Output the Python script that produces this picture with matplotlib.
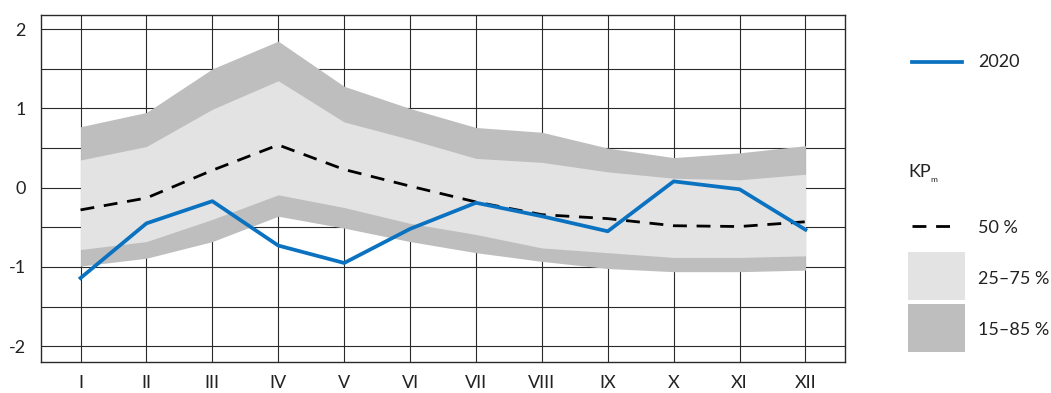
import numpy as np
import matplotlib.pyplot as plt
from matplotlib.patches import Rectangle
from matplotlib.lines import Line2D

plt.rcParams['font.family'] = ['Lato', 'DejaVu Sans']

# měsíce a percentily
months = ['I', 'II', 'III', 'IV', 'V', 'VI', 'VII', 'VIII', 'IX', 'X', 'XI', 'XII']
p15 = [-0.99, -0.89, -0.68, -0.36, -0.51, -0.68, -0.82, -0.93, -1.02, -1.06, -1.06, -1.04]
p25 = [-0.78, -0.68, -0.40, -0.09, -0.25, -0.45, -0.59, -0.76, -0.82, -0.88, -0.88, -0.86]
p50 = [-0.28, -0.13, 0.22, 0.54, 0.23, 0.02, -0.18, -0.34, -0.39, -0.48, -0.49, -0.43]
p75 = [0.35, 0.52, 0.99, 1.35, 0.83, 0.61, 0.37, 0.32, 0.20, 0.12, 0.10, 0.17]
p85 = [0.77, 0.95, 1.50, 1.85, 1.28, 1.00, 0.76, 0.70, 0.50, 0.38, 0.44, 0.53]
y2020 = [-1.14, -0.45, -0.17, -0.73, -0.95, -0.52, -0.19, -0.36, -0.55, 0.08, -0.02, -0.53]

light = '#e3e3e3'
dark = '#bebebe'
blue = '#0a72c0'
txt = '#222222'

x = np.arange(1, 13)

fig = plt.figure(figsize=(10.51, 3.93), dpi=100)
ax = fig.add_axes([41 / 1051, 1 - 362 / 393, 804 / 1051, 347 / 393])

ax.fill_between(x, p15, p85, color=dark, lw=0, zorder=2)
ax.fill_between(x, p25, p75, color=light, lw=0, zorder=3)
ax.plot(x, p50, color='black', lw=2, ls=(0, (5, 3.5)), zorder=4)
ax.plot(x, y2020, color=blue, lw=2.7, zorder=5)

ax.set_xlim(0.4, 12.6)
ax.set_ylim(-2.2, 2.18)
ax.set_xticks(x)
ax.set_xticklabels(months)
ax.set_yticks([-2, -1, 0, 1, 2])
ax.set_yticklabels(['-2', '-1', '0', '1', '2'])
ax.set_yticks(np.arange(-2, 2.01, 0.5), minor=True)
ax.tick_params(length=0, labelsize=13, colors=txt)
ax.tick_params(axis='y', pad=11)
ax.tick_params(axis='x', pad=9)
ax.tick_params(which='minor', length=0)
ax.grid(True, which='both', color='#2a2a2a', lw=0.8, zorder=1)
ax.set_axisbelow(True)
for s in ax.spines.values():
    s.set_color('#2a2a2a')
    s.set_linewidth(1.0)

# legenda vpravo
lg = fig.add_axes([0, 0, 1, 1], facecolor='none')
lg.set_xlim(0, 1051)
lg.set_ylim(393, 0)
lg.axis('off')
lg.add_line(Line2D([912, 962], [62, 62], color=blue, lw=2.7))
lg.text(978, 62, '2020', va='center', fontsize=13, color=txt)
lg.text(908, 172, 'KP', va='center', fontsize=13, color=txt)
lg.text(930, 180, 'm', va='center', fontsize=6, color=txt)
lg.add_line(Line2D([912, 954], [226, 226], color='black', lw=2, ls=(0, (5, 3.5))))
lg.text(978, 228, '50 %', va='center', fontsize=13, color=txt)
lg.add_patch(Rectangle((908, 252), 57, 48, color=light, lw=0))
lg.text(978, 279, '25–75 %', va='center', fontsize=13, color=txt)
lg.add_patch(Rectangle((908, 304), 57, 48, color=dark, lw=0))
lg.text(978, 330, '15–85 %', va='center', fontsize=13, color=txt)

fig.savefig('out.png', dpi=100)
